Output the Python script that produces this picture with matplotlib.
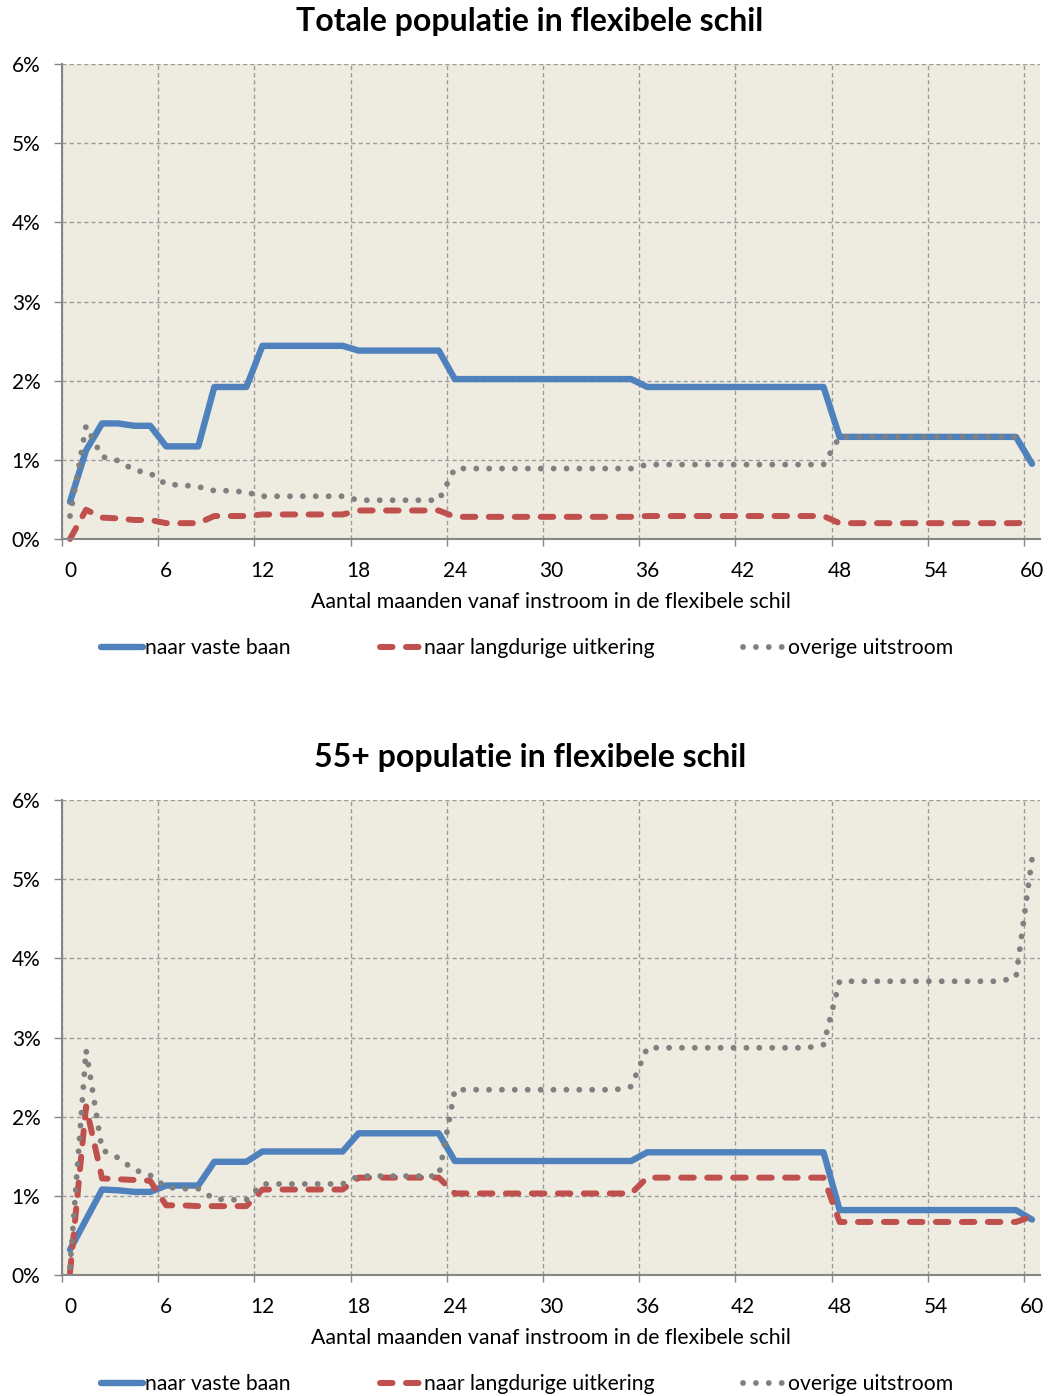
import numpy as np
import matplotlib
matplotlib.use("Agg")
import matplotlib.pyplot as plt

plt.rcParams['font.family'] = ['Lato', 'DejaVu Sans']

# Stap 1 - data (percentages per maand, 0 t/m 60)
maanden = list(range(61))
tick_maanden = [0, 6, 12, 18, 24, 30, 36, 42, 48, 54, 60]

totaal_vast = [0.47, 1.12, 1.46, 1.46, 1.43, 1.43, 1.17, 1.17, 1.17, 1.92, 1.92, 1.92,
               2.44, 2.44, 2.44, 2.44, 2.44, 2.44,
               2.38, 2.38, 2.38, 2.38, 2.38, 2.38,
               2.02, 2.02, 2.02, 2.02, 2.02, 2.02, 2.02, 2.02, 2.02, 2.02, 2.02, 2.02,
               1.92, 1.92, 1.92, 1.92, 1.92, 1.92, 1.92, 1.92, 1.92, 1.92, 1.92, 1.92,
               1.29, 1.29, 1.29, 1.29, 1.29, 1.29, 1.29, 1.29, 1.29, 1.29, 1.29, 1.29,
               0.95]
totaal_uitkering = [0.0, 0.37, 0.27, 0.26, 0.24, 0.24, 0.20, 0.20, 0.20, 0.29, 0.29, 0.29,
                    0.31, 0.31, 0.31, 0.31, 0.31, 0.31,
                    0.36, 0.36, 0.36, 0.36, 0.36, 0.36,
                    0.28, 0.28, 0.28, 0.28, 0.28, 0.28, 0.28, 0.28, 0.28, 0.28, 0.28, 0.28,
                    0.29, 0.29, 0.29, 0.29, 0.29, 0.29, 0.29, 0.29, 0.29, 0.29, 0.29, 0.29,
                    0.20, 0.20, 0.20, 0.20, 0.20, 0.20, 0.20, 0.20, 0.20, 0.20, 0.20, 0.20,
                    0.21]
totaal_overig = [0.29, 1.43, 1.04, 0.99, 0.87, 0.83, 0.69, 0.68, 0.66, 0.61, 0.61, 0.59,
                 0.54, 0.54, 0.54, 0.54, 0.54, 0.54,
                 0.49, 0.49, 0.49, 0.49, 0.49, 0.49,
                 0.89, 0.89, 0.89, 0.89, 0.89, 0.89, 0.89, 0.89, 0.89, 0.89, 0.89, 0.89,
                 0.94, 0.94, 0.94, 0.94, 0.94, 0.94, 0.94, 0.94, 0.94, 0.94, 0.94, 0.94,
                 1.29, 1.29, 1.29, 1.29, 1.29, 1.29, 1.29, 1.29, 1.29, 1.29, 1.29, 1.29,
                 np.nan]

oud_vast = [0.32, 0.70, 1.08, 1.07, 1.05, 1.05, 1.13, 1.13, 1.13, 1.43, 1.43, 1.43,
            1.56, 1.56, 1.56, 1.56, 1.56, 1.56,
            1.79, 1.79, 1.79, 1.79, 1.79, 1.79,
            1.44, 1.44, 1.44, 1.44, 1.44, 1.44, 1.44, 1.44, 1.44, 1.44, 1.44, 1.44,
            1.55, 1.55, 1.55, 1.55, 1.55, 1.55, 1.55, 1.55, 1.55, 1.55, 1.55, 1.55,
            0.82, 0.82, 0.82, 0.82, 0.82, 0.82, 0.82, 0.82, 0.82, 0.82, 0.82, 0.82,
            0.70]
oud_uitkering = [0.03, 2.13, 1.22, 1.21, 1.20, 1.19, 0.88, 0.88, 0.87, 0.87, 0.87, 0.87,
                 1.08, 1.08, 1.08, 1.08, 1.08, 1.08,
                 1.23, 1.23, 1.23, 1.23, 1.23, 1.23,
                 1.03, 1.03, 1.03, 1.03, 1.03, 1.03, 1.03, 1.03, 1.03, 1.03, 1.03, 1.03,
                 1.23, 1.23, 1.23, 1.23, 1.23, 1.23, 1.23, 1.23, 1.23, 1.23, 1.23, 1.23,
                 0.67, 0.67, 0.67, 0.67, 0.67, 0.67, 0.67, 0.67, 0.67, 0.67, 0.67, 0.67,
                 0.74]
oud_overig = [0.10, 2.84, 1.58, 1.48, 1.33, 1.26, 1.11, 1.09, 1.09, 0.96, 0.95, 0.95,
              1.15, 1.15, 1.15, 1.15, 1.15, 1.15,
              1.25, 1.25, 1.25, 1.25, 1.25, 1.25,
              2.34, 2.34, 2.34, 2.34, 2.34, 2.34, 2.34, 2.34, 2.34, 2.34, 2.34, 2.38,
              2.87, 2.87, 2.87, 2.87, 2.87, 2.87, 2.87, 2.87, 2.87, 2.87, 2.87, 2.91,
              3.71, 3.71, 3.71, 3.71, 3.71, 3.71, 3.71, 3.71, 3.71, 3.71, 3.71, 3.76,
              5.25]

labels = ["naar vaste baan", "naar langdurige uitkering", "overige uitstroom"]
W, H = 1050, 1396


def teken_paneel(ax, vast, uitkering, overig):
    ax.set_facecolor("#EEECE1")
    ax.plot(maanden, vast, color="#4F81BD", lw=4.6, solid_capstyle='round',
            solid_joinstyle='round', clip_on=False, label=labels[0])
    ax.plot(maanden, uitkering, color="#C0504D", lw=4.3, linestyle=(0, (2.1, 2.25)),
            dash_capstyle='round', dash_joinstyle='round', clip_on=False, label=labels[1])
    ax.plot(maanden, overig, color="#808080", lw=4.2, linestyle=(0, (0.01, 2.2)),
            dash_capstyle='round', clip_on=False, label=labels[2])
    ax.set_xlim(-0.5, 60.5)
    ax.set_ylim(0, 6)
    ax.set_axisbelow(True)
    # labels in het midden van de categorie, rasterlijnen ertussen
    ax.set_xticks(tick_maanden)
    ax.set_xticklabels([str(m) for m in tick_maanden])
    ax.set_xticks([m - 0.5 for m in tick_maanden], minor=True)
    ax.tick_params(axis='x', which='major', length=0, pad=15.5, labelsize=15)
    ax.tick_params(axis='x', which='minor', length=5, width=1, color='#868686')
    ax.set_yticks(range(7))
    ax.set_yticklabels([f"{i}%" for i in range(7)])
    ax.tick_params(axis='y', length=5.5, width=1, color='#868686', pad=10, labelsize=15)
    ax.grid(True, axis='x', which='minor', color='#9A9A9A', lw=1, linestyle=(0, (3, 2.2)))
    ax.grid(True, axis='y', which='major', color='#9A9A9A', lw=1, linestyle=(0, (3, 2.2)))
    for s in ['top', 'right']:
        ax.spines[s].set_visible(False)
    for s in ['left', 'bottom']:
        ax.spines[s].set_color('#868686')
        ax.spines[s].set_linewidth(1.5)


fig = plt.figure(figsize=(W / 100, H / 100), dpi=100)

panelen = [
    ("Totale populatie in flexibele schil", totaal_vast, totaal_uitkering, totaal_overig, 64),
    ("55+ populatie in flexibele schil", oud_vast, oud_uitkering, oud_overig, 800),
]

for titel, vast, uitkering, overig, top in panelen:
    ax = fig.add_axes([62 / W, 1 - (top + 475) / H, 978 / W, 475 / H])
    teken_paneel(ax, vast, uitkering, overig)
    fig.text(530 / W, 1 - (top - 43) / H, titel, fontsize=23, fontweight='bold',
             ha='center', va='center')
    fig.text(551 / W, 1 - (top + 538) / H, "Aantal maanden vanaf instroom in de flexibele schil",
             fontsize=15.3, ha='center', va='center')
    h, l = ax.get_legend_handles_labels()
    fig.legend(h, l, loc='center', bbox_to_anchor=(527 / W, 1 - (top + 584) / H),
               ncol=3, frameon=False, fontsize=15.2, handlelength=2.0,
               handletextpad=0.1, columnspacing=4.2)

plt.savefig("out.png", dpi=100)
